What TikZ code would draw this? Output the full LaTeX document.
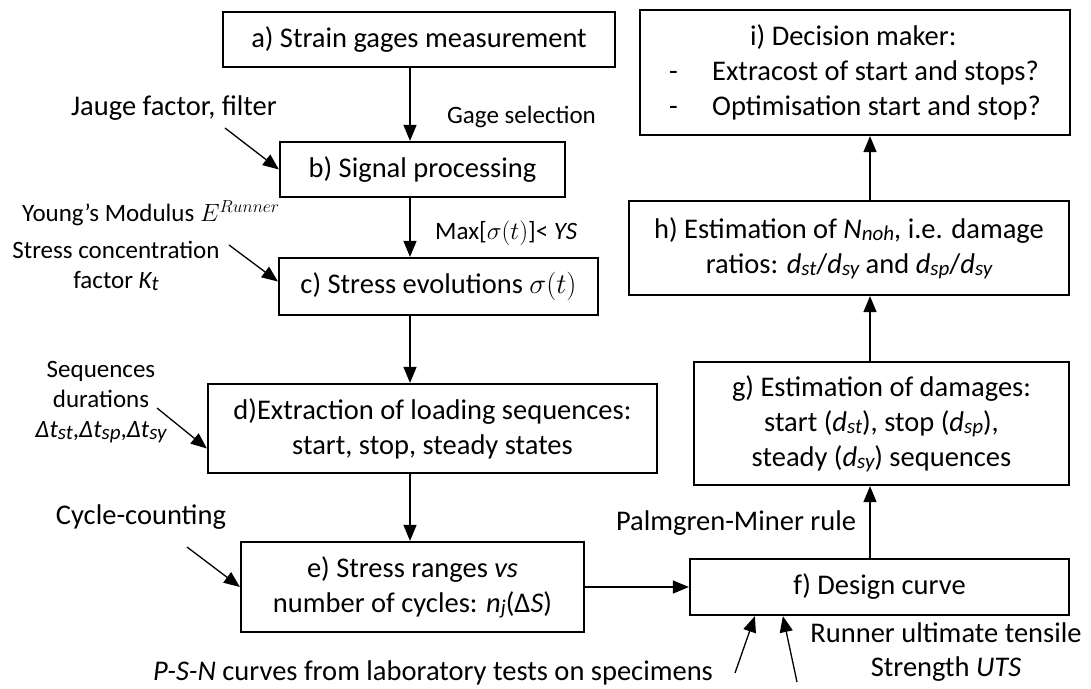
\documentclass[tikz,border=0pt]{standalone}
\usepackage{fix-cm}
\usepackage{fontspec}
\setmainfont{Carlito}
\usetikzlibrary{arrows.meta}
\newcommand{\idx}[1]{\raisebox{-2pt}{\fontsize{21}{21}\selectfont\itshape #1}}

\begin{document}
\begin{tikzpicture}[x=1pt, y=-1pt, font=\fontsize{28.5}{34.8}\selectfont]
  \tikzstyle{box}=[draw, line width=2.2pt, align=center, inner sep=0pt]
  \tikzstyle{lbl}=[align=center, inner sep=0pt]
  \tikzstyle{small}=[font=\fontsize{25}{30}\selectfont]
  \tikzstyle{arr}=[line width=1.3pt, -{Triangle[length=16pt, width=13pt]}]

  \useasboundingbox (0,0) rectangle (1091,688);

  % process boxes
  \node[box, minimum width=392pt, minimum height=55pt]  (a) at (419,   39.5)  {a) Strain gages measurement};
  \node[box, minimum width=285pt, minimum height=55pt]  (b) at (422.5, 169.5) {b) Signal processing};
  \node[box, minimum width=319pt, minimum height=57pt]  (c) at (438.5, 286.5) {c) Stress evolutions $\sigma(t)$};
  \node[box, minimum width=449pt, minimum height=89pt]  (d) at (432.5, 428.5) {d)Extraction of loading sequences:\\start, stop, steady states};
  \node[box, minimum width=343pt, minimum height=90pt]  (e) at (412.5, 587)   {e) Stress ranges {\itshape vs}\\number of cycles: {\itshape n}\idx{j}(Δ{\itshape S})};
  \node[box, minimum width=379pt, minimum height=56pt]  (f) at (879.5, 587)   {f) Design curve};
  \node[box, minimum width=375pt, minimum height=123pt] (g) at (881.5, 423.5) {g) Estimation of damages:\\start ({\itshape d}\idx{st}), stop ({\itshape d}\idx{sp}),\\steady ({\itshape d}\idx{sy}) sequences};
  \node[box, minimum width=440pt, minimum height=94pt]  (h) at (849,   248)   {h) Estimation of {\itshape N}\idx{noh}, i.e. damage\\ratios: {\itshape d}\idx{st}/{\itshape d}\idx{sy} and {\itshape d}\idx{sp}/{\itshape d}\idx{sy}};
  \node[box, minimum width=430pt, minimum height=125pt, align=left] (i) at (855, 72.5)
    {\hspace*{81pt}i) Decision maker:\\\makebox[43pt][l]{-}Extracost of start and stops?\\\makebox[43pt][l]{-}Optimisation start and stop?};

  % side inputs
  \node[lbl, anchor=east] (jaugetxt) at (277, 108) {Jauge factor, filter};
  \node[lbl, small, anchor=west] (gagetxt)  at (447, 117) {Gage selection};
  \node[lbl, small, anchor=west] (maxtxt)   at (435, 233) {Max[$\sigma(t)$]< {\itshape YS}};
  \node[lbl, small, anchor=west] (youngtxt) at (22,  213) {Young’s Modulus $E^{Runner}$};
  \node[lbl, small] (kttxt)  at (116, 266) {Stress concentration\\factor {\itshape K}\idx{t}};
  \node[lbl, small] (seqtxt) at (101, 402) {Sequences\\durations\\{\itshape Δt}\idx{st},{\itshape Δt}\idx{sp},{\itshape Δt}\idx{sy}};
  \node[lbl] (cyctxt)   at (141, 517) {Cycle-counting};
  \node[lbl] (psntxt)   at (433, 673) {{\itshape P-S-N} curves from laboratory tests on specimens};
  \node[lbl] (minertxt) at (736, 523) {Palmgren-Miner rule};
  \node[lbl] (utstxt)   at (946, 652) {Runner ultimate tensile\\Strength {\itshape UTS}};

  \coordinate (colL)  at (410, 0);
  \coordinate (colR)  at (870, 0);
  \coordinate (jauge) at (225, 128);
  \coordinate (young) at (229, 245);
  \coordinate (seq)   at (157, 408);
  \coordinate (cyc)   at (187, 547);
  \coordinate (psn)   at (735, 673);
  \coordinate (uts)   at (797, 682);

  % main flow
  \path (a.south -| colL) edge[arr] (b.north -| colL);
  \path (b.south -| colL) edge[arr] (c.north -| colL);
  \path (c.south -| colL) edge[arr] (d.north -| colL);
  \path (d.south -| colL) edge[arr] (e.north -| colL);
  \path (e.east)          edge[arr] (f.west);
  \path (f.north -| colR) edge[arr] (g.south -| colR);
  \path (g.north -| colR) edge[arr] (h.south -| colR);
  \path (h.north -| colR) edge[arr] (i.south -| colR);

  % inputs
  \path (jauge) edge[arr] (b.west);
  \path (young) edge[arr] ([yshift=5pt]c.west);
  \path (seq)   edge[arr] ([yshift=-20pt]d.west);
  \path (cyc)   edge[arr] (e.west);
  \path (psn)   edge[arr] ([xshift=66pt]f.south west);
  \path (uts)   edge[arr] ([xshift=94pt]f.south west);
\end{tikzpicture}
\end{document}
